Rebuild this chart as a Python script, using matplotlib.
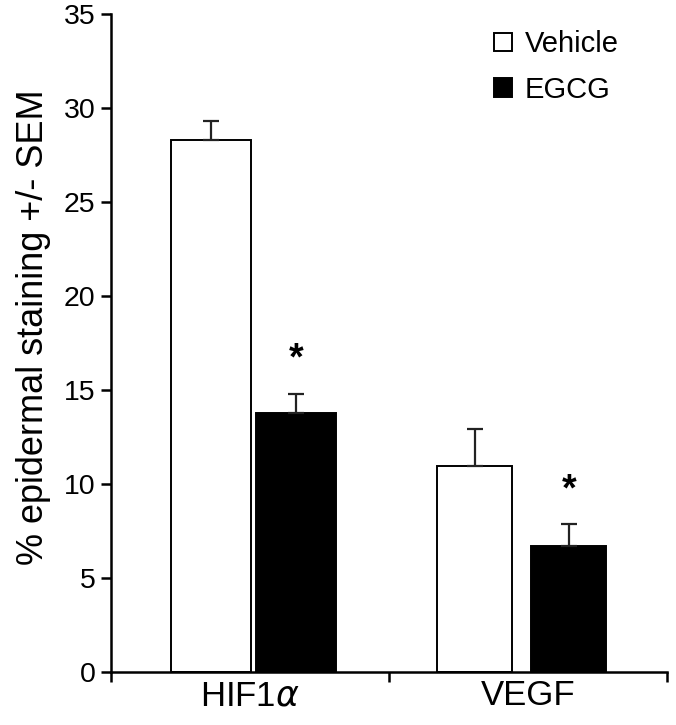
import numpy as np
import matplotlib
matplotlib.use("Agg")
import matplotlib.pyplot as plt
from matplotlib.patches import Patch

plt.rcParams['font.family'] = ['Liberation Sans', 'DejaVu Sans']

## -------------------- data ------------------- ##
categories = ['HIF1$\\alpha$', 'VEGF']
vehicle = [28.3, 10.95]
vehicle_sem = [1.0, 2.0]
egcg = [13.8, 6.7]
egcg_sem = [1.0, 1.15]
significant = [True, True]

## -------------------- layout (bar offsets per group, measured) ------------------- ##
veh_offset = [-0.14, -0.192]
egcg_offset = [0.167, 0.146]
bar_width = [0.288, 0.27]

fig = plt.figure(figsize=(6.76, 7.25), dpi=100)
ax = fig.add_axes([0.164, 0.073, 0.823, 0.908])

x = np.arange(len(categories))
xv = x + np.array(veh_offset)
xe = x + np.array(egcg_offset)

err_kw = dict(ecolor='#222222', elinewidth=1.6, capsize=6, capthick=1.6)
ax.bar(xv, vehicle, width=bar_width, color='white', edgecolor='black', linewidth=1.4,
       yerr=[np.zeros(len(vehicle)), vehicle_sem], error_kw=err_kw, label='Vehicle')
ax.bar(xe, egcg, width=bar_width, color='black', edgecolor='black', linewidth=1.4,
       yerr=[np.zeros(len(egcg)), egcg_sem], error_kw=err_kw, label='EGCG')

# asterisks above EGCG bars
for xi, v, s, sig in zip(xe, egcg, egcg_sem, significant):
    if sig:
        ax.text(xi, v + s + 1.8, '*', ha='center', va='center', fontsize=27, fontweight='bold')

ax.set_xlim(-0.5, 1.5)
ax.set_ylim(0, 35)
ax.set_yticks(np.arange(0, 36, 5))
ax.set_xticks([-0.5, 0.5, 1.5])
ax.set_xticklabels([])
ax.set_xticks(x, minor=True)
ax.set_xticklabels(categories, minor=True, fontsize=25)
ax.tick_params(axis='x', which='minor', length=0, pad=5)
ax.tick_params(axis='x', which='major', length=7, width=1.8, direction='out')
ax.tick_params(axis='y', length=7, width=1.8, direction='out', labelsize=20.5, pad=4)

for side in ['top', 'right']:
    ax.spines[side].set_visible(False)
for side in ['left', 'bottom']:
    ax.spines[side].set_linewidth(1.8)

ax.set_ylabel('% epidermal staining +/- SEM', fontsize=26)
ax.yaxis.set_label_coords(-0.108, 0.524)

handles = [Patch(facecolor='white', edgecolor='black', linewidth=1.4, label='Vehicle'),
           Patch(facecolor='black', edgecolor='black', linewidth=1.4, label='EGCG')]
ax.legend(handles=handles, loc='upper left', bbox_to_anchor=(0.642, 1.015), frameon=False,
          fontsize=21, handlelength=0.6, handleheight=0.6, handletextpad=0.45, labelspacing=0.6)

plt.savefig('out.png', dpi=100)
